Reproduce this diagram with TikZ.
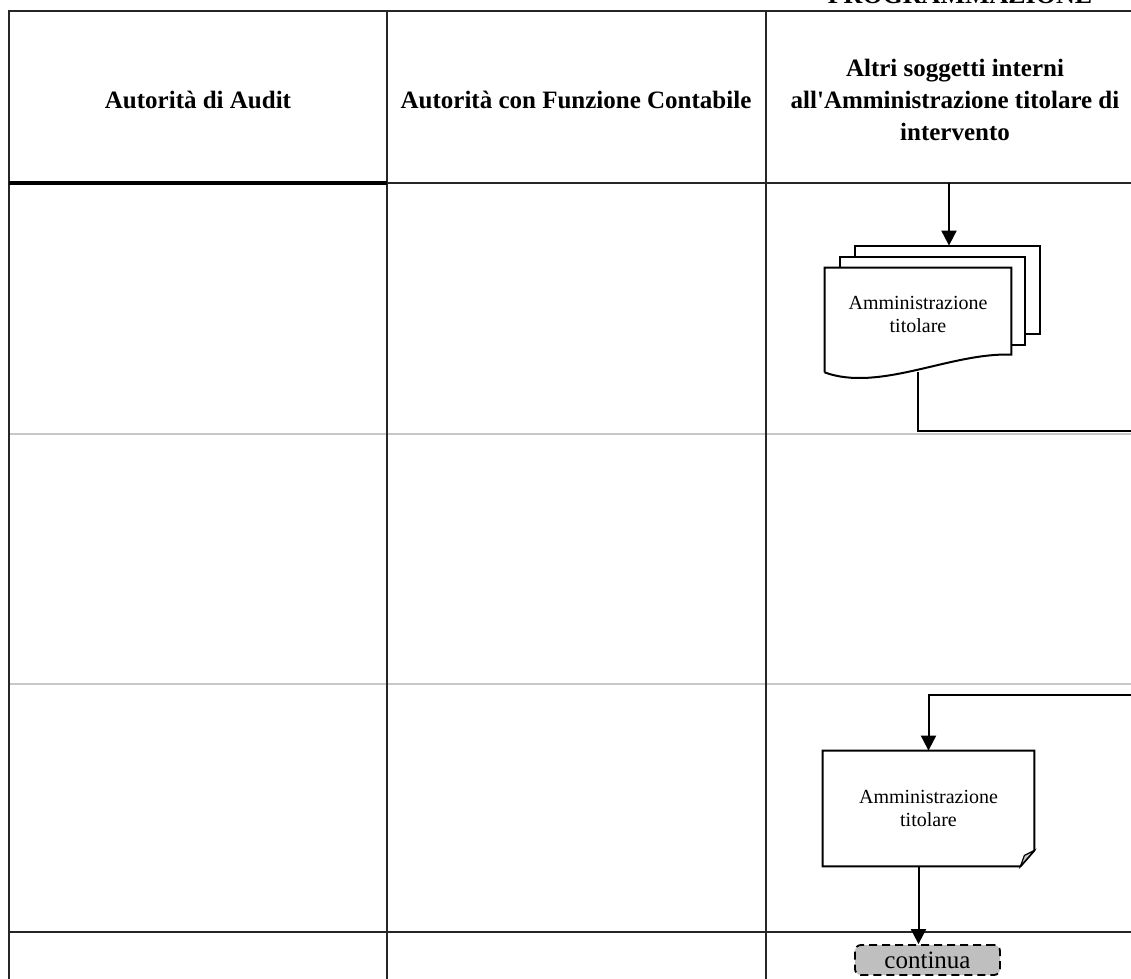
\documentclass[tikz,border=0pt]{standalone}
\usepackage{fontspec}
\setmainfont{Liberation Serif}
\usetikzlibrary{arrows.meta}

\begin{document}
\begin{tikzpicture}[x=0.5pt, y=-0.5pt, >={Triangle[width=7.5pt,length=7.5pt]},
    lane/.style={line width=1pt, black!85},
    sep/.style={line width=0.6pt, black!22},
    head/.style={font=\fontsize{12.5}{16}\selectfont\bfseries, align=center},
    doctext/.style={font=\fontsize{10}{11.5}\selectfont, align=center, inner sep=0pt},
    flow/.style={line width=1pt},
    contbox/.style={draw, line width=0.9pt, dash pattern=on 4pt off 2.5pt, rounded corners=3pt,
      fill=gray!50, minimum width=72.5pt, minimum height=15pt, inner sep=0pt,
      font=\fontsize{12.5}{14}\selectfont}]
  \useasboundingbox (0,0) rectangle (1131,979);
  \clip (0,0) rectangle (1131,979);

  % titolo (tagliato in alto)
  \node[font=\fontsize{13}{16}\selectfont\bfseries, anchor=base] (titolo) at (960,4) {PROGRAMMAZIONE};

  % corsie
  \draw[sep] (9,434) -- (1131,434);
  \draw[sep] (9,684) -- (1131,684);
  \draw[lane] (9,979) -- (9,11) -- (1131,11);
  \draw[lane] (387,11) -- (387,979);
  \draw[lane] (766,11) -- (766,979);
  \draw[lane] (387,183) -- (1131,183);
  \draw[line width=2pt] (9,183) -- (387,183);
  \draw[lane] (9,932) -- (1131,932);

  % intestazioni
  \node[head] (hAudit) at (198,100) {Autorità di Audit};
  \node[head] (hContabile) at (576,100) {Autorità con Funzione Contabile};
  \node[head] (hAltri) at (955,100) {Altri soggetti interni\\all\textquotesingle Amministrazione titolare di\\intervento};

  % documento multiplo
  \node[doctext, minimum width=93pt, minimum height=52pt] (docAmm) at (918,320) {};
  \draw[flow, fill=white] ([shift={(30,-22)}]docAmm.north west) rectangle ([shift={(29,66)}]docAmm.north east);
  \draw[flow, fill=white] ([shift={(15,-11)}]docAmm.north west) rectangle ([shift={(14,77)}]docAmm.north east);
  \draw[flow, fill=white] (docAmm.south west) -- (docAmm.north west) -- (docAmm.north east)
    -- ([shift={(0,87)}]docAmm.north east)
    .. controls ([shift={(-61,-20)}]docAmm.south east) and ([shift={(55,20)}]docAmm.south west) .. (docAmm.south west);
  \node[doctext] at ([yshift=3]docAmm.center) {Amministrazione\\titolare};

  \coordinate (ingresso) at (949,183);
  \coordinate (uscita) at (1131,431);
  \draw[flow, ->] (ingresso) -- ([shift={(31,-22)}]docAmm.north);
  \draw[flow] (docAmm.south) -- (docAmm.south |- uscita) -- (uscita);

  % nota
  \node[doctext, minimum width=105.5pt, minimum height=57.5pt] (notaAmm) at (928.5,808.5) {Amministrazione\\titolare};
  \draw[flow] (notaAmm.north west) -- (notaAmm.north east) -- ([shift={(0,-16)}]notaAmm.south east)
    -- ([shift={(-14,0)}]notaAmm.south east) -- (notaAmm.south west) -- cycle;
  \draw[line width=0.6pt, fill=gray!45] ([shift={(0,-16)}]notaAmm.south east) -- ([shift={(-14,0)}]notaAmm.south east)
    -- ([shift={(-10,-11)}]notaAmm.south east) -- cycle;

  \coordinate (rientro) at (1131,695);
  \draw[flow, ->] (rientro) -| (notaAmm.north);

  % continua
  \node[contbox] (continua) at (927.5,960) {continua};
  \draw[flow, ->] ([xshift=-5]notaAmm.south) -- ([xshift=-5]notaAmm.south |- continua.north);
\end{tikzpicture}
\end{document}
